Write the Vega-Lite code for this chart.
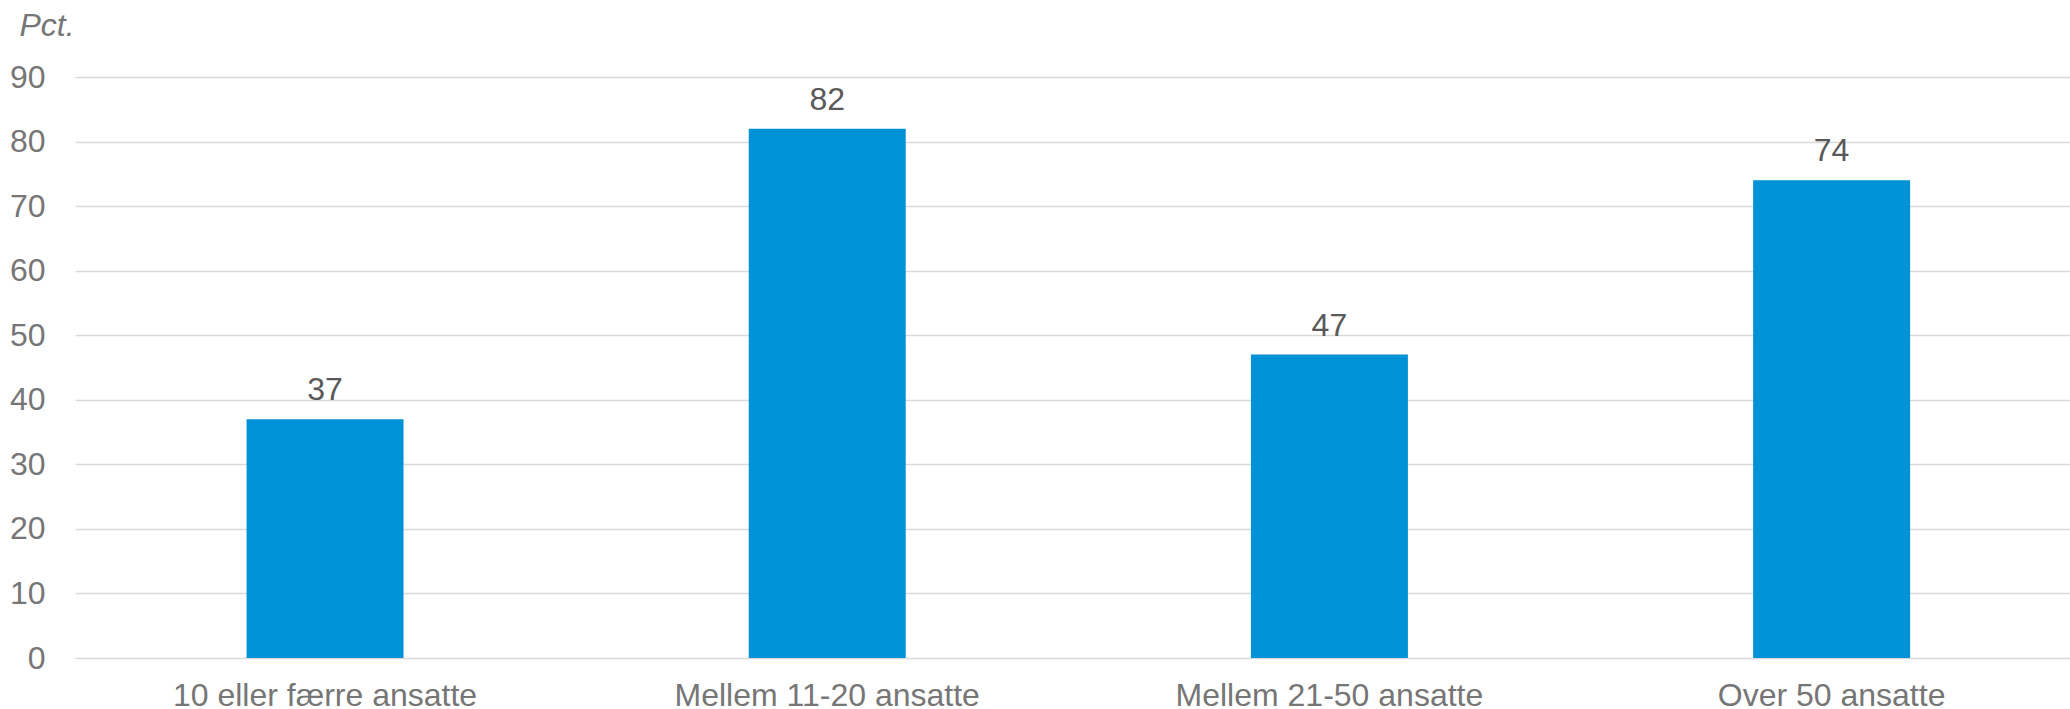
{
  "$schema": "https://vega.github.io/schema/vega-lite/v6.json",
  "width": 1996,
  "height": 581,
  "autosize": {"type": "none"},
  "padding": {"left": 75, "top": 77, "right": 0, "bottom": 51},
  "background": "white",
  "config": {
    "view": {"stroke": null},
    "font": "Liberation Sans"
  },
  "data": {
    "values": [
      {"kategori": "10 eller færre ansatte", "pct": 37},
      {"kategori": "Mellem 11-20 ansatte", "pct": 82},
      {"kategori": "Mellem 21-50 ansatte", "pct": 47},
      {"kategori": "Over 50 ansatte", "pct": 74}
    ]
  },
  "encoding": {
    "x": {
      "field": "kategori",
      "type": "nominal",
      "sort": null,
      "scale": {"paddingInner": 0.6874, "paddingOuter": 0.331, "align": 0.516},
      "axis": {
        "title": null,
        "labelAngle": 0,
        "labelFont": "Liberation Sans",
        "labelFontSize": 32,
        "labelColor": "#767676",
        "labelPadding": 47,
        "labelBaseline": "alphabetic",
        "labelLimit": 0,
        "ticks": false,
        "tickSize": 0,
        "domain": false,
        "grid": false
      }
    },
    "y": {
      "field": "pct",
      "type": "quantitative",
      "scale": {"domain": [0, 90], "nice": false},
      "axis": {
        "values": [0, 10, 20, 30, 40, 50, 60, 70, 80, 90],
        "title": "Pct.",
        "titleFont": "Liberation Sans",
        "titleFontStyle": "italic",
        "titleFontWeight": "normal",
        "titleFontSize": 32,
        "titleColor": "#767676",
        "titleAngle": 0,
        "titleAlign": "left",
        "titleBaseline": "alphabetic",
        "titleX": -56,
        "titleY": -42,
        "labelFont": "Liberation Sans",
        "labelFontSize": 32,
        "labelColor": "#767676",
        "labelPadding": 30,
        "ticks": false,
        "tickSize": 0,
        "domain": false,
        "grid": true,
        "gridColor": "#d9d9d9",
        "gridWidth": 1.5
      }
    }
  },
  "layer": [
    {"mark": {"type": "bar", "color": "#0092D6"}},
    {
      "mark": {
        "type": "text",
        "baseline": "alphabetic",
        "dy": -19,
        "font": "Liberation Sans",
        "fontSize": 32,
        "color": "#595959"
      },
      "encoding": {"text": {"field": "pct", "type": "quantitative"}}
    }
  ]
}
